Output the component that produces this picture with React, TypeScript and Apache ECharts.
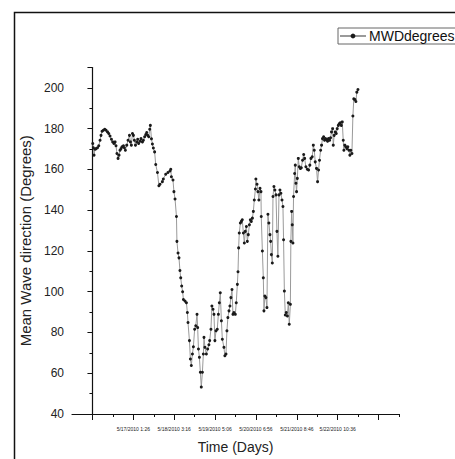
import React, { useEffect, useRef } from "react";
import * as echarts from "echarts";

// Time offsets (hours after 5/16/2010 23:36) and Mean Wave Direction (degrees)
const hours = [
  0.2, 0.6, 1.0, 1.6, 2.3, 3.2, 4.0, 4.8, 5.4, 6.1, 6.9, 7.8, 8.6, 9.5, 10.3, 11.1, 12.0, 12.8, 13.6, 14.3,
  14.9, 15.5, 16.2, 16.8, 17.4, 18.1, 18.7, 19.6, 20.2, 20.8, 21.7, 22.5, 23.4, 24.0, 24.6, 25.3, 25.9, 26.5, 27.2, 28.0,
  28.6, 29.2, 30.1, 30.7, 31.6, 32.2, 33.0, 33.7, 34.3, 34.9, 35.6, 36.2, 36.6, 37.3, 37.9, 38.5, 39.3, 40.0, 41.1, 42.0,
  42.7, 44.2, 44.8, 46.3, 47.7, 49.0, 49.5, 49.9, 50.9, 51.5, 52.2, 53.1, 53.4, 54.1, 54.7, 55.3, 55.8, 56.4, 57.0, 57.5,
  58.5, 59.4, 60.0, 60.4, 61.3, 61.9, 62.5, 63.2, 63.8, 64.6, 65.3, 66.1, 66.5, 67.0, 67.6, 68.2, 68.8, 69.5, 70.1, 70.5,
  71.1, 72.0, 72.8, 73.6, 74.1, 74.9, 75.5, 76.2, 76.8, 77.4, 78.1, 78.9, 79.6, 80.2, 80.8, 81.5, 82.1, 83.1, 83.7, 84.4,
  85.0, 85.6, 86.3, 86.9, 87.5, 88.2, 88.8, 89.4, 90.3, 90.9, 91.6, 92.0, 92.4, 92.8, 93.5, 94.1, 94.7, 95.4, 96.0, 96.6,
  97.3, 97.9, 98.5, 99.2, 99.8, 100.4, 101.1, 101.7, 102.3, 103.0, 103.3, 104.0, 104.6, 105.2, 105.9, 106.5, 106.7, 107.4, 108.0, 108.4,
  109.0, 109.6, 110.3, 110.9, 111.5, 112.2, 112.6, 113.1, 113.7, 114.1, 114.7, 115.3, 116.0, 116.6, 117.2, 117.9, 118.5, 119.1, 119.8, 120.4,
  120.8, 121.3, 121.9, 122.5, 123.2, 123.8, 124.4, 125.1, 125.4, 125.9, 126.3, 126.7, 127.1, 127.8, 128.2, 128.6, 129.0, 129.5, 130.1, 130.7,
  131.4, 132.0, 132.8, 133.5, 134.1, 134.9, 135.8, 136.6, 137.4, 138.1, 138.9, 139.6, 140.2, 140.8, 141.6, 142.3, 142.9, 143.5, 144.2, 144.8,
  145.4, 146.1, 146.7, 147.3, 148.0, 148.6, 149.2, 149.9, 150.5, 151.1, 151.8, 152.2, 152.8, 153.5, 154.1, 154.7, 155.4, 156.0, 156.6, 157.3,
  157.9, 158.5, 158.9, 159.5, 160.2, 160.8, 161.4, 162.1, 162.7, 163.3, 164.0, 164.6, 165.2, 165.9, 166.5, 167.1, 167.8,
];

const mwdDegrees = [
  172.7, 170.6, 167.0, 169.9, 170.2, 170.6, 171.6, 174.3, 176.7, 178.7, 179.2, 179.7, 179.2, 178.4, 177.6, 176.4, 174.8, 173.5, 172.7, 173.5,
  171.6, 167.8, 165.4, 167.0, 169.4, 170.2, 171.1, 171.6, 170.6, 169.4, 171.9, 174.3, 176.7, 173.5, 171.9, 177.6, 176.7, 174.3, 171.9, 173.5,
  174.8, 172.7, 173.8, 175.1, 173.5, 174.3, 176.0, 177.1, 178.1, 176.7, 176.0, 179.7, 181.6, 175.0, 172.5, 170.5, 168.6, 162.4, 158.5, 152.0,
  152.7, 154.0, 155.3, 157.6, 158.5, 159.2, 160.1, 156.4, 154.8, 149.1, 145.5, 136.9, 124.7, 119.0, 116.6, 110.4, 106.8, 102.8, 100.0, 96.2,
  95.4, 94.6, 89.8, 84.9, 76.0, 67.0, 63.8, 69.4, 73.0, 81.6, 83.3, 88.9, 82.4, 71.9, 67.8, 60.5, 53.2, 60.5, 69.4, 77.6,
  72.7, 69.4, 71.9, 74.0, 76.0, 81.6, 93.0, 91.4, 88.9, 76.0, 80.8, 81.6, 88.9, 94.6, 99.5, 85.7, 76.7, 72.7, 68.6, 69.4,
  80.8, 87.3, 90.6, 93.0, 97.1, 101.1, 88.9, 89.8, 88.9, 94.6, 103.6, 109.8, 121.5, 128.8, 133.7, 134.5, 135.3, 128.8, 123.9, 129.6,
  132.0, 124.7, 128.0, 132.8, 135.3, 134.5, 136.1, 139.4, 145.0, 150.4, 155.3, 152.7, 149.1, 145.0, 150.7, 149.1, 136.9, 120.0, 106.8, 90.6,
  97.9, 97.1, 92.2, 138.0, 133.7, 128.0, 124.7, 118.2, 114.1, 146.7, 151.6, 149.9, 147.5, 129.6, 117.4, 147.5, 149.9, 148.3, 145.0, 141.8,
  125.5, 100.3, 88.6, 89.8, 88.1, 94.6, 84.0, 93.8, 124.7, 139.4, 132.8, 123.9, 146.7, 158.0, 162.1, 153.2, 149.1, 155.6, 165.4, 161.3,
  160.5, 160.8, 164.5, 167.3, 165.4, 161.3, 160.1, 159.7, 162.1, 165.4, 166.2, 171.9, 169.4, 163.7, 160.5, 154.0, 159.7, 164.5, 169.4, 171.9,
  175.1, 176.0, 174.3, 175.1, 174.6, 173.8, 175.1, 174.3, 175.5, 178.4, 180.0, 171.9, 176.7, 178.4, 177.6, 180.0, 181.6, 182.4, 182.9, 181.6,
  183.3, 174.3, 169.4, 171.9, 171.1, 170.2, 171.1, 169.4, 167.0, 169.4, 167.8, 186.2, 194.6, 194.3, 193.3, 197.9, 199.2,
];

// x axis in minutes after 5/16/2010 23:36; one labelled step = 25 h 50 min
const xTickLabels = [
  "5/17/2010 1:26",
  "5/18/2010 3:16",
  "5/19/2010 5:06",
  "5/20/2010 6:56",
  "5/21/2010 8:46",
  "5/22/2010 10:36",
];
const yTickValues = [40, 60, 80, 100, 120, 140, 160, 180, 200];
const STEP = 1550;
const X_MIN = -775;
const X_MAX = 11625;
const majorTicks = [0, 1, 2, 3, 4, 5, 6, 7].map((k) => k * STEP);
const minorTicks = [0, 1, 2, 3, 4, 5, 6, 7].map((k) => k * STEP + STEP / 2);
const labelTicks = xTickLabels.map((_, i) => (i + 1) * STEP);

const FONT = "'Liberation Sans', Arial, sans-serif";

export default function App() {
  const ref = useRef<HTMLDivElement>(null);
  useEffect(() => {
    if (!ref.current) return;
    const chart = echarts.init(ref.current, null, { renderer: "svg" });
    const data = hours.map((h, i) => [h * 60, mwdDegrees[i]]);
    chart.setOption({
      animation: false,
      backgroundColor: "#ffffff",
      textStyle: { fontFamily: FONT },
      graphic: [
        {
          type: "rect",
          left: 12,
          top: 10,
          shape: { width: 470, height: 480 },
          style: { fill: "none", stroke: "#111", lineWidth: 1.5 },
          silent: true,
        },
      ],
      legend: {
        left: 338,
        top: 28,
        orient: "horizontal",
        borderColor: "#666",
        borderWidth: 1,
        borderRadius: 0,
        padding: [1, 20, 1, 1],
        itemWidth: 26,
        itemHeight: 6,
        itemGap: 4,
        textStyle: { fontSize: 14, color: "#111", fontFamily: FONT, padding: [0, 0, 0, -2] },
        data: ["MWDdegrees"],
      },
      grid: { left: 72, right: 56, top: 67.5, bottom: 42, containLabel: false },
      xAxis: [
        {
          type: "value",
          min: X_MIN,
          max: X_MAX,
          name: "Time (Days)",
          nameLocation: "middle",
          nameGap: 26,
          nameTextStyle: { fontSize: 14, color: "#222", fontFamily: FONT },
          axisLine: { show: true, lineStyle: { color: "#111", width: 1.2 } },
          axisTick: {
            show: true,
            inside: false,
            length: 6,
            customValues: majorTicks,
            lineStyle: { color: "#111" },
          },
          axisLabel: {
            show: true,
            fontSize: 5,
            color: "#222",
            margin: 12,
            customValues: labelTicks,
            formatter: (v: number) => {
              const i = labelTicks.indexOf(Math.round(v));
              return i >= 0 ? xTickLabels[i] : "";
            },
          },
          splitLine: { show: false },
        },
        {
          type: "value",
          min: X_MIN,
          max: X_MAX,
          position: "bottom",
          axisLine: { show: false },
          axisTick: {
            show: true,
            length: 3,
            customValues: minorTicks,
            lineStyle: { color: "#111" },
          },
          axisLabel: { show: false },
          splitLine: { show: false },
        },
      ],
      yAxis: {
        type: "value",
        min: 40,
        max: 210,
        interval: 20,
        name: "Mean Wave direction (Degrees)",
        nameLocation: "middle",
        nameGap: 29,
        nameTextStyle: { fontSize: 15, color: "#222", fontFamily: FONT },
        axisLine: { show: true, lineStyle: { color: "#111", width: 1.2 } },
        axisTick: { show: true, length: 5, lineStyle: { color: "#111" } },
        minorTick: { show: true, splitNumber: 2, length: 3, lineStyle: { color: "#111" } },
        axisLabel: {
          fontSize: 12,
          color: "#222",
          margin: 8,
          showMaxLabel: false,
          formatter: (v: number) => (yTickValues.indexOf(v) >= 0 ? String(v) : ""),
        },
        splitLine: { show: false },
      },
      series: [
        {
          name: "MWDdegrees",
          type: "line",
          xAxisIndex: 0,
          data,
          symbol: "circle",
          symbolSize: 3,
          showSymbol: true,
          itemStyle: { color: "#1a1a1a" },
          lineStyle: { color: "#9a9a9a", width: 1 },
        },
      ],
    });
    return () => chart.dispose();
  }, []);
  return (
    <div
      ref={ref}
      style={{ position: "fixed", left: 0, top: 0, width: 455, height: 459, background: "#fff" }}
    />
  );
}
